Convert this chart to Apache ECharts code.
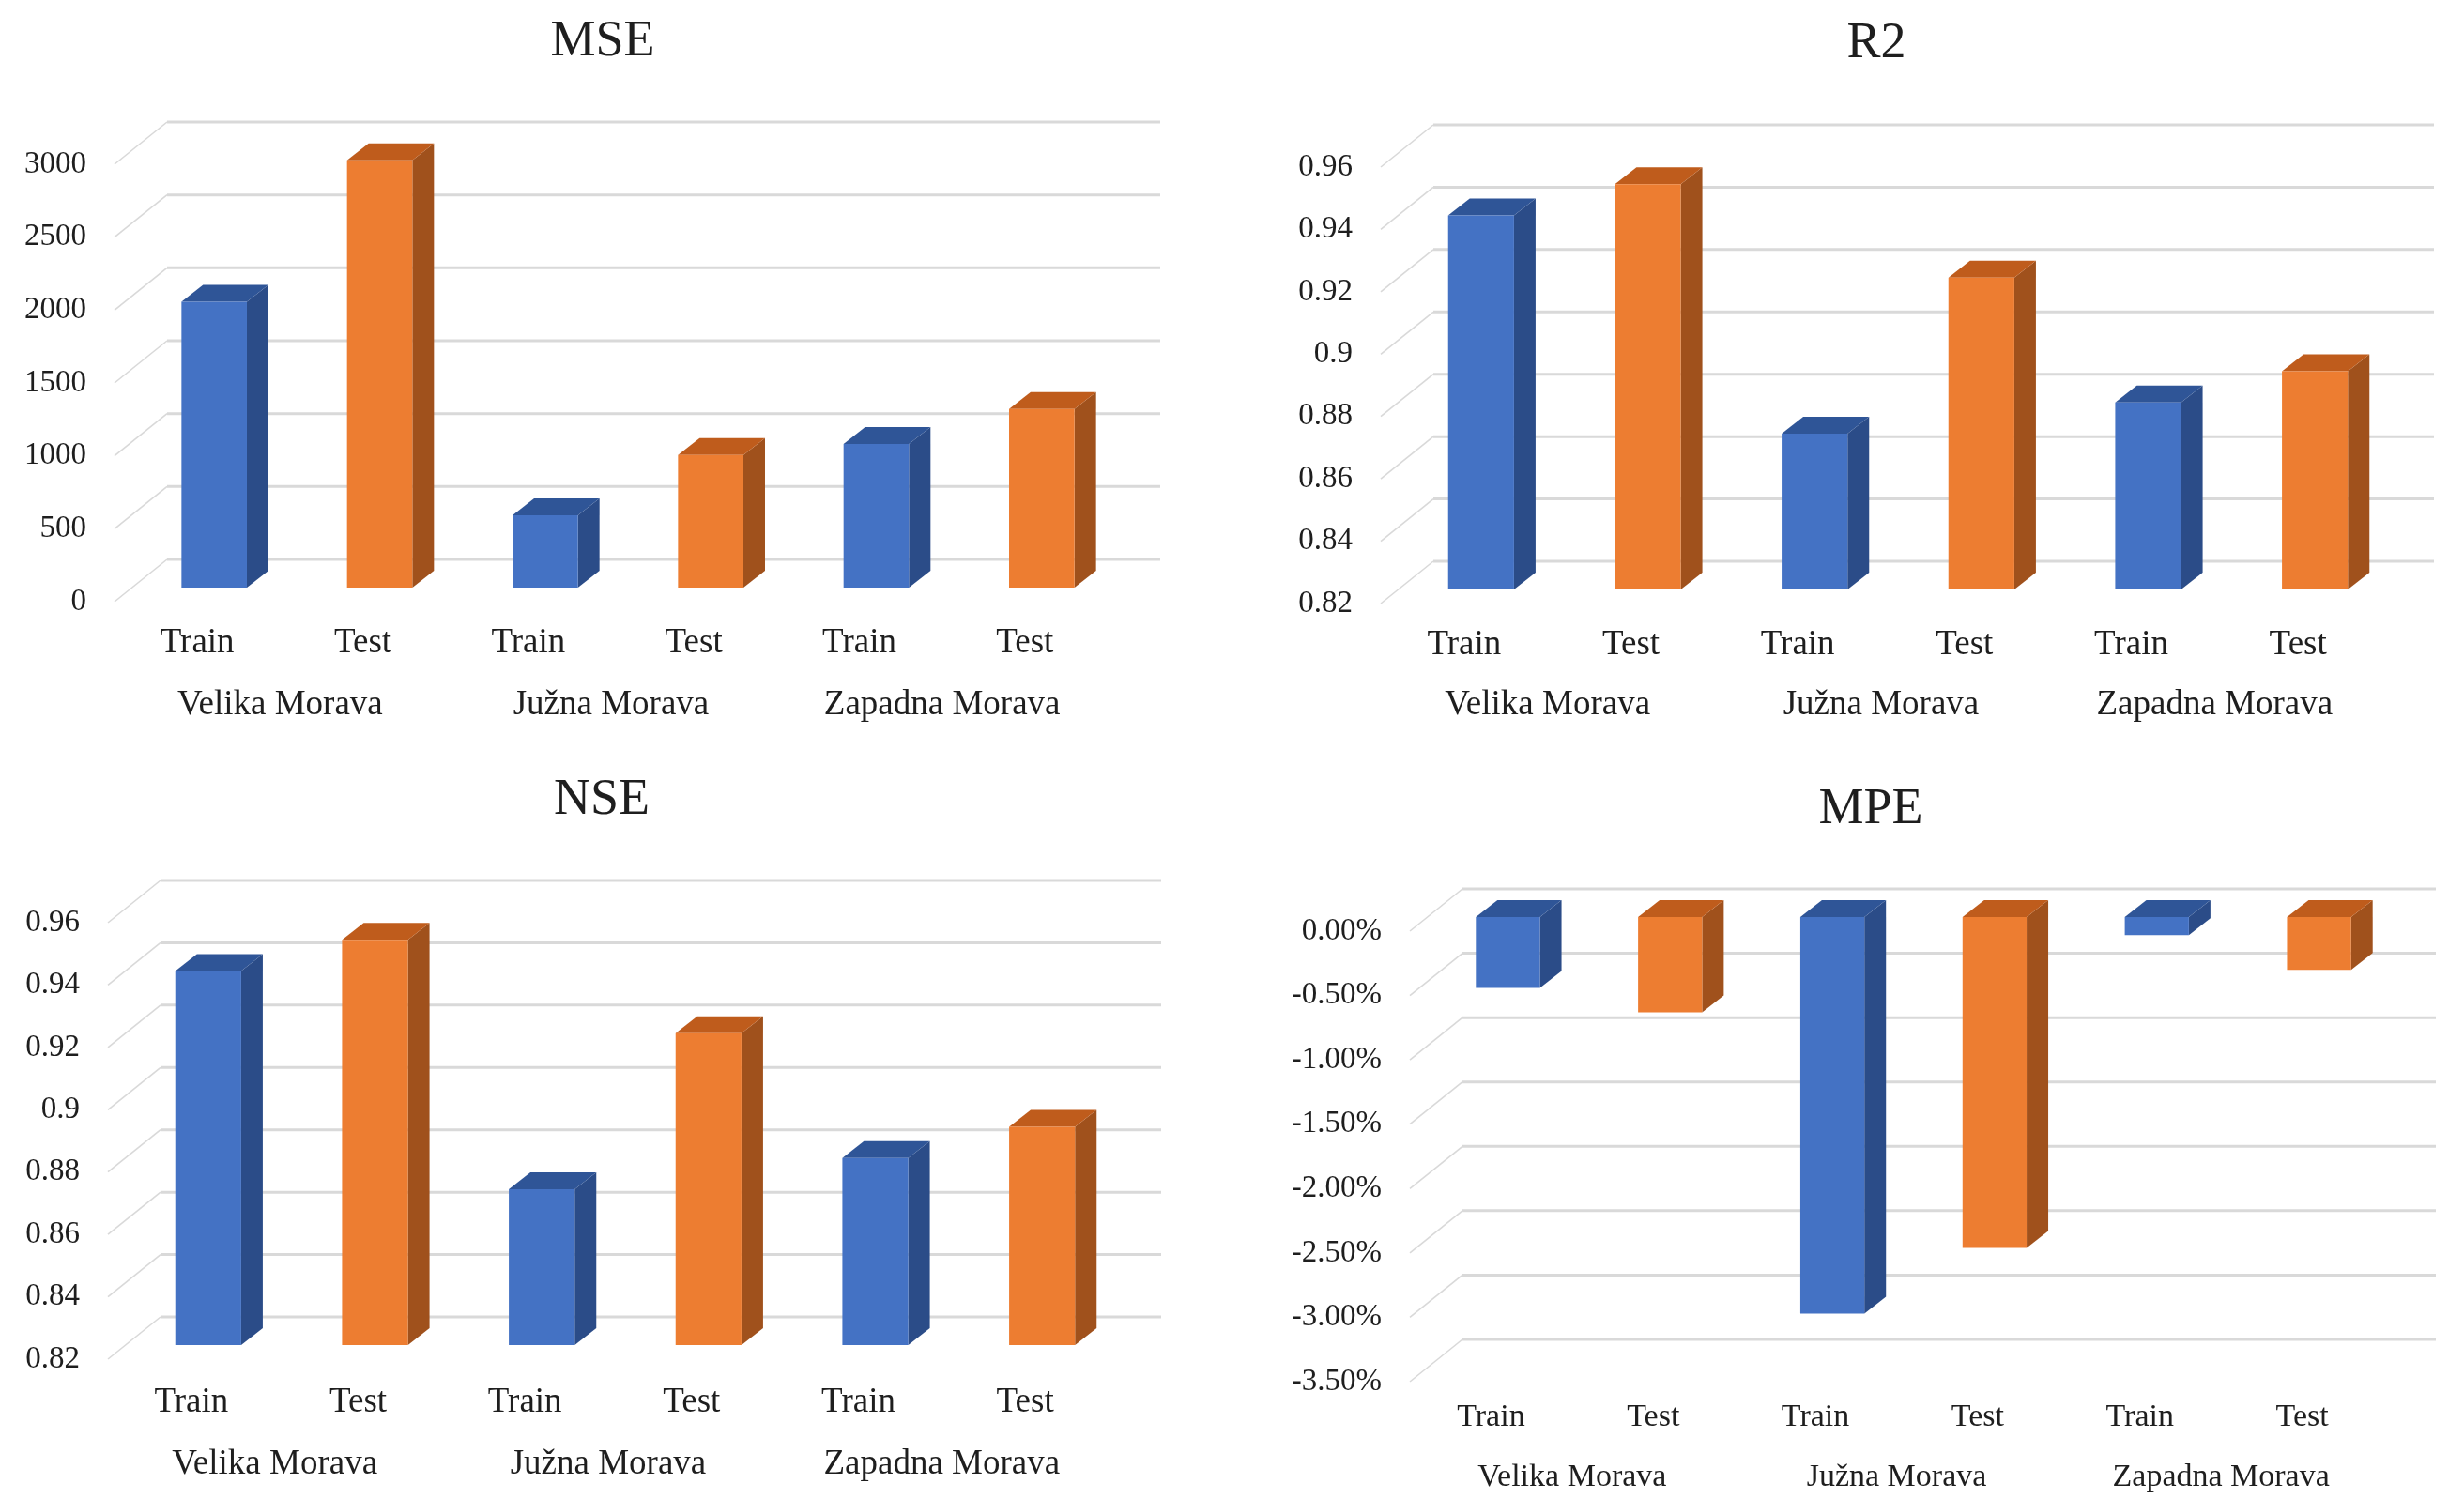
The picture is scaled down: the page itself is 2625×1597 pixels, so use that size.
<!DOCTYPE html>
<html>
<head>
<meta charset="utf-8">
<script src="https://cdn.jsdelivr.net/npm/echarts@6/dist/echarts.min.js"></script>
<style>
  html, body { margin: 0; background: #fff; }
  #chart { width: 2625px; height: 1597px; }
</style>
</head>
<body>
<div id="chart"></div>
<script>
// data
const groups = ['Velika Morava', 'Južna Morava', 'Zapadna Morava'];
const splits = ['Train', 'Test'];

const mseTrain = [1960, 495, 985];
const mseTest = [2930, 910, 1225];
const mseTicks = [0, 500, 1000, 1500, 2000, 2500, 3000];

const r2Train = [0.94, 0.87, 0.88];
const r2Test = [0.95, 0.92, 0.89];

const nseTrain = [0.94, 0.87, 0.88];
const nseTest = [0.95, 0.92, 0.89];

const fitTicks = [0.82, 0.84, 0.86, 0.88, 0.9, 0.92, 0.94, 0.96];

const mpeTrain = [-0.55, -3.08, -0.14];
const mpeTest = [-0.74, -2.57, -0.41];
const mpeTicks = [0, -0.5, -1, -1.5, -2, -2.5, -3, -3.5];

const categories = groups.flatMap(() => splits);

const FONT = '"Liberation Serif", "Times New Roman", serif';
const TEXT = '#1e1e1e';
const GRIDC = '#d9d9d9';
const FLOOR = [56, 45];   // depth of the floor (back wall offset)
const SHIFT = [18, 15];   // where the bars stand inside the floor
const DEPTH = [23, 18];   // depth of a bar

const BLUE = { front: '#4472c4', top: '#2f5597', side: '#2b4c88' };
const ORANGE = { front: '#ed7d31', top: '#bf5c1c', side: '#a0511c' };

const panels = [
  { title: 'MSE', train: mseTrain, test: mseTest, ticks: mseTicks, min: 0, max: 3000, step: 500, base: 0,
    fmt: v => String(v), grid: { left: 122, top: 175, width: 1058, height: 466 }, tx: 637, ty: 13,
    catSize: 37, catMargin: 26, groupOff: 66 },
  { title: 'R2', train: r2Train, test: r2Test, ticks: fitTicks, min: 0.82, max: 0.96, step: 0.02, base: 0.82,
    fmt: v => String(+v.toFixed(2)), grid: { left: 1471, top: 178, width: 1066, height: 465 }, tx: 1994, ty: 15,
    catSize: 37, catMargin: 26, groupOff: 64 },
  { title: 'NSE', train: nseTrain, test: nseTest, ticks: fitTicks, min: 0.82, max: 0.96, step: 0.02, base: 0.82,
    fmt: v => String(+v.toFixed(2)), grid: { left: 115, top: 983, width: 1066, height: 465 }, tx: 636, ty: 821,
    catSize: 37, catMargin: 28, groupOff: 66 },
  { title: 'MPE', train: mpeTrain, test: mpeTest, ticks: mpeTicks, min: -3.5, max: 0, step: 0.5, base: 0,
    fmt: v => v.toFixed(2) + '%', grid: { left: 1502, top: 992, width: 1037, height: 480 }, tx: 1988, ty: 831,
    catSize: 34, catMargin: 21, groupOff: 64 }
];

function gridRender(params, api) {
  const cs = params.coordSys;
  const y = api.coord([0, api.value(1)])[1];
  return {
    type: 'group',
    children: [
      { type: 'line', shape: { x1: cs.x, y1: y, x2: cs.x + FLOOR[0], y2: y - FLOOR[1] },
        style: { stroke: GRIDC, lineWidth: 1.6 } },
      { type: 'line', shape: { x1: cs.x + FLOOR[0], y1: y - FLOOR[1], x2: cs.x + cs.width + FLOOR[0], y2: y - FLOOR[1] },
        style: { stroke: GRIDC, lineWidth: 3 } }
    ]
  };
}

function barRender(c, base) {
  return function (params, api) {
    const i = api.value(0);
    const p = api.coord([i, api.value(1)]);
    const b = api.coord([i, base]);
    const w = api.size([1, 0])[0] * 0.395;
    const x = p[0] - w / 2 + SHIFT[0];
    const y0 = Math.min(p[1], b[1]) - SHIFT[1];
    const y1 = Math.max(p[1], b[1]) - SHIFT[1];
    const dx = DEPTH[0], dy = DEPTH[1];
    return {
      type: 'group',
      children: [
        { type: 'polygon', shape: { points: [[x + w, y0], [x + w + dx, y0 - dy], [x + w + dx, y1 - dy], [x + w, y1]] },
          style: { fill: c.side } },
        { type: 'polygon', shape: { points: [[x, y0], [x + dx, y0 - dy], [x + w + dx, y0 - dy], [x + w, y0]] },
          style: { fill: c.top } },
        { type: 'rect', shape: { x: x, y: y0, width: w, height: y1 - y0 }, style: { fill: c.front } }
      ]
    };
  };
}

const option = { backgroundColor: '#fff', animation: false, title: [], grid: [], xAxis: [], yAxis: [], series: [] };

panels.forEach((pn, k) => {
  option.title.push({
    text: pn.title, left: pn.tx, top: pn.ty, textAlign: 'center',
    textStyle: { fontFamily: FONT, fontSize: 54, fontWeight: 'normal', color: TEXT }
  });
  option.grid.push(Object.assign({ containLabel: false }, pn.grid));
  option.xAxis.push({
    type: 'category', gridIndex: k, data: categories, position: 'bottom',
    axisLine: { show: false }, axisTick: { show: false }, splitLine: { show: false },
    axisLabel: { fontFamily: FONT, fontSize: pn.catSize, color: TEXT, margin: pn.catMargin, interval: 0 }
  });
  option.xAxis.push({
    type: 'category', gridIndex: k, data: groups, position: 'bottom', offset: pn.groupOff,
    axisLine: { show: false }, axisTick: { show: false }, splitLine: { show: false },
    axisLabel: { fontFamily: FONT, fontSize: pn.catSize, color: TEXT, margin: pn.catMargin, interval: 0 }
  });
  option.yAxis.push({
    type: 'value', gridIndex: k, min: pn.min, max: pn.max, interval: pn.step,
    axisLine: { show: false }, axisTick: { show: false }, splitLine: { show: false },
    axisLabel: { fontFamily: FONT, fontSize: 33, color: TEXT, margin: 30, formatter: pn.fmt }
  });
  option.series.push({
    type: 'custom', xAxisIndex: 2 * k, yAxisIndex: k, z: 1, silent: true,
    encode: { x: 0, y: 1 },
    data: pn.ticks.map(t => [0, t]),
    renderItem: gridRender
  });
  option.series.push({
    name: 'Train', type: 'custom', xAxisIndex: 2 * k, yAxisIndex: k, z: 2,
    encode: { x: 0, y: 1 },
    data: pn.train.map((v, g) => [g * 2, v]),
    renderItem: barRender(BLUE, pn.base)
  });
  option.series.push({
    name: 'Test', type: 'custom', xAxisIndex: 2 * k, yAxisIndex: k, z: 2,
    encode: { x: 0, y: 1 },
    data: pn.test.map((v, g) => [g * 2 + 1, v]),
    renderItem: barRender(ORANGE, pn.base)
  });
});

const chart = echarts.init(document.getElementById('chart'));
chart.setOption(option);
</script>
</body>
</html>
